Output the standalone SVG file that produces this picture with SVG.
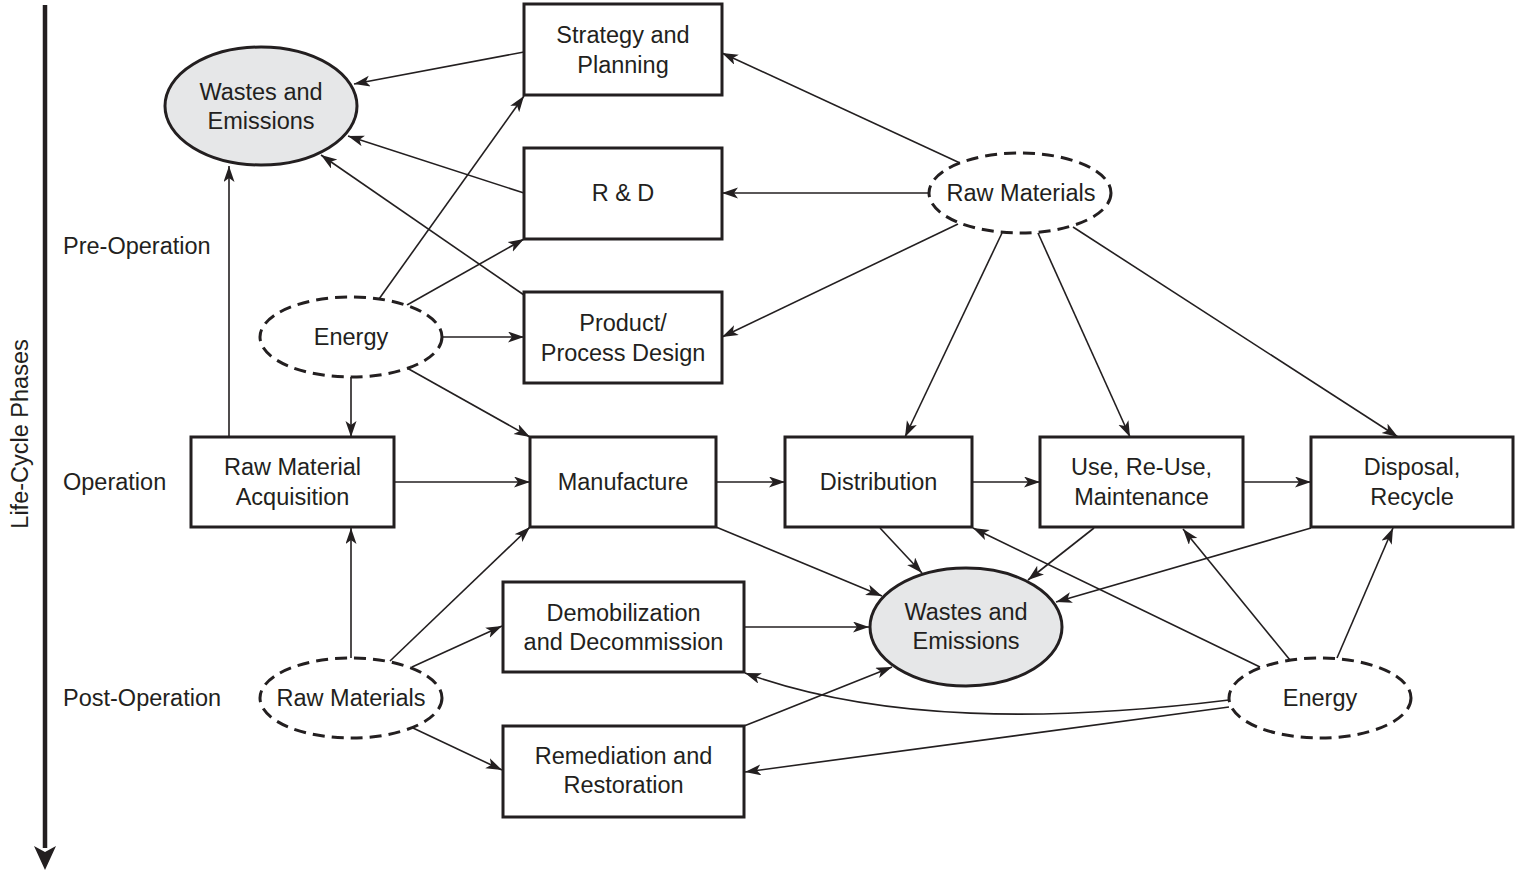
<svg xmlns="http://www.w3.org/2000/svg" width="1516" height="871" viewBox="0 0 1516 871">
  <style>
    .box { fill: #ffffff; stroke: #231f20; stroke-width: 3; }
    .waste { fill: #e6e7e8; stroke: #231f20; stroke-width: 3; }
    .input { fill: #ffffff; stroke: #231f20; stroke-width: 3; stroke-dasharray: 12 7; }
    .lbl { font-family: "Liberation Sans", Arial, sans-serif; font-size: 23.5px; fill: #231f20; text-anchor: middle; }
    .phase { font-family: "Liberation Sans", Arial, sans-serif; font-size: 23.5px; fill: #231f20; }
    .conn { fill: none; stroke: #231f20; stroke-width: 1.6; marker-end: url(#arr); }
  </style>
  <defs>
    <marker id="arr" markerUnits="userSpaceOnUse" markerWidth="17" markerHeight="12" refX="16" refY="5.5" orient="auto">
      <path d="M0,0 L16,5.5 L0,11 L4,5.5 z" fill="#231f20"/>
    </marker>
  </defs>

  <rect width="1516" height="871" fill="#ffffff"/>

  <!-- phase axis -->
  <g id="axis">
    <line x1="45" y1="5" x2="45" y2="848" stroke="#231f20" stroke-width="4.5"/>
    <path d="M34,846 L45,852 L56,846 L45,870 z" fill="#231f20"/>
    <text class="phase" x="0" y="0" text-anchor="middle" font-size="21.5" transform="translate(28,434) rotate(-90)">Life-Cycle Phases</text>
    <text class="phase" x="63" y="254">Pre-Operation</text>
    <text class="phase" x="63" y="490">Operation</text>
    <text class="phase" x="63" y="706">Post-Operation</text>
  </g>

  <!-- connectors -->
  <g id="connectors">
    <!-- into upper wastes -->
    <line class="conn" x1="524" y1="52" x2="354" y2="84"/>
    <line class="conn" x1="524" y1="193" x2="348" y2="136"/>
    <line class="conn" x1="524" y1="295" x2="321" y2="155"/>
    <line class="conn" x1="229" y1="437" x2="229" y2="166"/>
    <!-- upper energy -->
    <line class="conn" x1="379" y1="299" x2="524" y2="96"/>
    <line class="conn" x1="407" y1="305" x2="524" y2="239"/>
    <line class="conn" x1="442" y1="337" x2="524" y2="337"/>
    <line class="conn" x1="351" y1="377" x2="351" y2="437"/>
    <line class="conn" x1="407" y1="368" x2="530" y2="437"/>
    <!-- upper raw materials -->
    <line class="conn" x1="960" y1="163" x2="722" y2="53"/>
    <line class="conn" x1="929" y1="193" x2="722" y2="193"/>
    <line class="conn" x1="958" y1="224" x2="722" y2="337"/>
    <line class="conn" x1="1002" y1="233" x2="905" y2="437"/>
    <line class="conn" x1="1038" y1="233" x2="1130" y2="437"/>
    <line class="conn" x1="1073" y1="227" x2="1398" y2="437"/>
    <!-- operation chain -->
    <line class="conn" x1="394" y1="482" x2="530" y2="482"/>
    <line class="conn" x1="716" y1="482" x2="785" y2="482"/>
    <line class="conn" x1="972" y1="482" x2="1040" y2="482"/>
    <line class="conn" x1="1243" y1="482" x2="1311" y2="482"/>
    <!-- into lower wastes -->
    <line class="conn" x1="716" y1="527" x2="882" y2="596"/>
    <line class="conn" x1="880" y1="528" x2="922" y2="573"/>
    <line class="conn" x1="1094" y1="528" x2="1028" y2="580"/>
    <line class="conn" x1="1311" y1="528" x2="1056" y2="602"/>
    <line class="conn" x1="744" y1="627" x2="869" y2="627"/>
    <line class="conn" x1="744" y1="726" x2="892" y2="667"/>
    <!-- lower raw materials -->
    <line class="conn" x1="351" y1="658" x2="351" y2="528"/>
    <line class="conn" x1="390" y1="661" x2="530" y2="527"/>
    <line class="conn" x1="412" y1="667" x2="502" y2="626"/>
    <line class="conn" x1="413" y1="728" x2="502" y2="770"/>
    <!-- lower energy -->
    <line class="conn" x1="1260" y1="667" x2="973" y2="528"/>
    <line class="conn" x1="1290" y1="660" x2="1183" y2="529"/>
    <line class="conn" x1="1337" y1="658" x2="1393" y2="528"/>
    <path class="conn" d="M1229,700 C1050,722 880,722 745,673"/>
    <line class="conn" x1="1229" y1="707" x2="745" y2="772"/>
  </g>

  <!-- nodes -->
  <g id="wastes-top">
    <ellipse class="waste" cx="261" cy="106" rx="96" ry="59"/>
    <text class="lbl" x="261" y="100">Wastes and</text>
    <text class="lbl" x="261" y="129">Emissions</text>
  </g>
  <g id="strategy">
    <rect class="box" x="524" y="4" width="198" height="91"/>
    <text class="lbl" x="623" y="43">Strategy and</text>
    <text class="lbl" x="623" y="73">Planning</text>
  </g>
  <g id="rnd">
    <rect class="box" x="524" y="148" width="198" height="91"/>
    <text class="lbl" x="623" y="201">R &amp; D</text>
  </g>
  <g id="design">
    <rect class="box" x="524" y="292" width="198" height="91"/>
    <text class="lbl" x="623" y="331">Product/</text>
    <text class="lbl" x="623" y="361">Process Design</text>
  </g>
  <g id="raw-materials-top">
    <ellipse class="input" cx="1020" cy="193" rx="91" ry="40"/>
    <text class="lbl" x="1021" y="201">Raw Materials</text>
  </g>
  <g id="energy-top">
    <ellipse class="input" cx="351" cy="337" rx="91" ry="40"/>
    <text class="lbl" x="351" y="345">Energy</text>
  </g>
  <g id="acquisition">
    <rect class="box" x="191" y="437" width="203" height="90"/>
    <text class="lbl" x="292.5" y="475">Raw Material</text>
    <text class="lbl" x="292.5" y="505">Acquisition</text>
  </g>
  <g id="manufacture">
    <rect class="box" x="530" y="437" width="186" height="90"/>
    <text class="lbl" x="623" y="490">Manufacture</text>
  </g>
  <g id="distribution">
    <rect class="box" x="785" y="437" width="187" height="90"/>
    <text class="lbl" x="878.5" y="490">Distribution</text>
  </g>
  <g id="use">
    <rect class="box" x="1040" y="437" width="203" height="90"/>
    <text class="lbl" x="1141.5" y="475">Use, Re-Use,</text>
    <text class="lbl" x="1141.5" y="505">Maintenance</text>
  </g>
  <g id="disposal">
    <rect class="box" x="1311" y="437" width="202" height="90"/>
    <text class="lbl" x="1412" y="475">Disposal,</text>
    <text class="lbl" x="1412" y="505">Recycle</text>
  </g>
  <g id="wastes-bottom">
    <ellipse class="waste" cx="966" cy="627" rx="96" ry="59"/>
    <text class="lbl" x="966" y="620">Wastes and</text>
    <text class="lbl" x="966" y="649">Emissions</text>
  </g>
  <g id="demobilization">
    <rect class="box" x="503" y="582" width="241" height="90"/>
    <text class="lbl" x="623.5" y="621">Demobilization</text>
    <text class="lbl" x="623.5" y="650">and Decommission</text>
  </g>
  <g id="remediation">
    <rect class="box" x="503" y="726" width="241" height="91"/>
    <text class="lbl" x="623.5" y="764">Remediation and</text>
    <text class="lbl" x="623.5" y="793">Restoration</text>
  </g>
  <g id="raw-materials-bottom">
    <ellipse class="input" cx="351" cy="698" rx="91" ry="40"/>
    <text class="lbl" x="351" y="706">Raw Materials</text>
  </g>
  <g id="energy-bottom">
    <ellipse class="input" cx="1320" cy="698" rx="91" ry="40"/>
    <text class="lbl" x="1320" y="706">Energy</text>
  </g>
</svg>
